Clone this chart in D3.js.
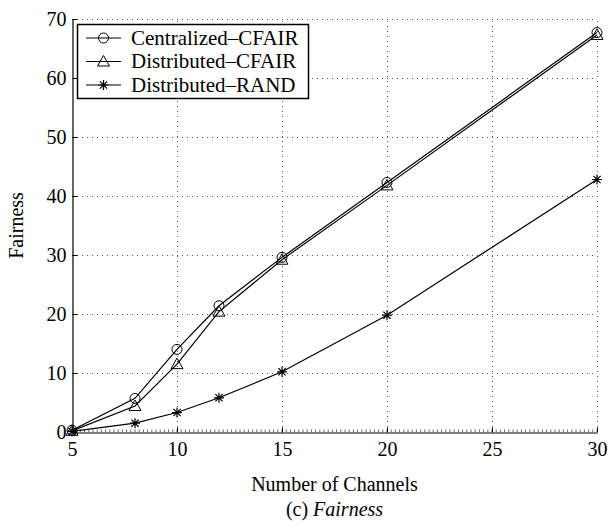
<!DOCTYPE html>
<html>
<head>
<meta charset="utf-8">
<script src="https://cdn.jsdelivr.net/npm/d3@7"></script>
<style>
  body { margin: 0; background: #fff; }
  svg { display: block; }
</style>
</head>
<body>
<div id="chart"></div>
<script>
// data
const channels = [5, 8, 10, 12, 15, 20, 30];
const centralizedCfair = [0.3, 5.7, 14.0, 21.4, 29.6, 42.3, 67.7];
const distributedCfair = [0.2, 4.4, 11.5, 20.4, 29.2, 41.8, 67.3];
const distributedRand = [0.1, 1.5, 3.3, 5.8, 10.2, 19.8, 42.8];
const xTicks = [5, 10, 15, 20, 25, 30];
const yTicks = [0, 10, 20, 30, 40, 50, 60, 70];

const series = [
    { name: 'Centralized\u2013CFAIR', values: centralizedCfair, marker: 'circle' },
    { name: 'Distributed\u2013CFAIR', values: distributedCfair, marker: 'triangle' },
    { name: 'Distributed\u2013RAND', values: distributedRand, marker: 'star' }
];

const width = 610, height = 525;
const margin = { left: 72, right: 13, top: 19, bottom: 93 };
const serif = "'Liberation Serif', monospace";

const svg = d3.select('#chart').append('svg')
    .attr('width', width)
    .attr('height', height);

const x = d3.scaleLinear().domain([5, 30]).range([margin.left, width - margin.right]);
const y = d3.scaleLinear().domain([0, 70]).range([height - margin.bottom, margin.top]);

// dotted grid
const grid = svg.append('g').attr('stroke', '#555').attr('stroke-width', 1)
    .attr('stroke-dasharray', '1,4');
grid.selectAll('.gx').data(xTicks.slice(1)).join('line')
    .attr('x1', d => Math.round(x(d)) + 0.5).attr('x2', d => Math.round(x(d)) + 0.5)
    .attr('y1', y(0)).attr('y2', y(70));
grid.selectAll('.gy').data(yTicks.slice(1)).join('line')
    .attr('y1', d => Math.round(y(d)) + 0.5).attr('y2', d => Math.round(y(d)) + 0.5)
    .attr('x1', x(5)).attr('x2', x(30));

// axes
const xAxis = svg.append('g')
    .attr('transform', `translate(0,${Math.round(y(0)) + 0.5})`)
    .call(d3.axisBottom(x).tickValues(xTicks).tickSize(-5).tickPadding(9).tickSizeOuter(0));
const yAxis = svg.append('g')
    .attr('transform', `translate(${Math.round(x(5)) + 0.5},0)`)
    .call(d3.axisLeft(y).tickValues(yTicks).tickSize(-5).tickPadding(6).tickSizeOuter(0));
[xAxis, yAxis].forEach(ax => {
    ax.select('.domain').attr('stroke', '#000').attr('stroke-width', 1.2);
    ax.selectAll('.tick line').attr('stroke', '#000');
    ax.selectAll('.tick text').style('font-size', '20px');
});

// minor ticks on x axis
svg.append('g').selectAll('line').data(d3.range(5, 30.01, 0.2)).join('line')
    .attr('x1', d => x(d)).attr('x2', d => x(d))
    .attr('y1', y(0)).attr('y2', y(0) - 2.5)
    .attr('stroke', '#000').attr('stroke-width', 0.6);

// axis labels
svg.append('text')
    .attr('x', (x(5) + x(30)) / 2).attr('y', 491)
    .attr('text-anchor', 'middle').style('font-size', '20px')
    .text('Number of Channels');
svg.append('text')
    .attr('transform', `translate(23,${(y(0) + y(70)) / 2}) rotate(-90)`)
    .attr('text-anchor', 'middle').style('font-size', '20px')
    .text('Fairness');
const cap = svg.append('text')
    .attr('x', (x(5) + x(30)) / 2).attr('y', 516)
    .attr('text-anchor', 'middle').style('font-size', '20px');
cap.append('tspan').text('(c) ');
cap.append('tspan').style('font-style', 'italic').text('Fairness');

// markers
function drawMarker(g, type, cx, cy) {
    if (type === 'circle') {
        g.append('circle').attr('cx', cx).attr('cy', cy).attr('r', 5)
            .attr('fill', 'none').attr('stroke', '#000');
    } else if (type === 'triangle') {
        const s = 6;
        g.append('path')
            .attr('d', `M${cx},${cy - s}L${cx + s},${cy + s * 0.75}L${cx - s},${cy + s * 0.75}Z`)
            .attr('fill', 'none').attr('stroke', '#000');
    } else {
        const s = 5, d = s * 0.72;
        g.append('path')
            .attr('d', `M${cx - s},${cy}H${cx + s}M${cx},${cy - s}V${cy + s}` +
                `M${cx - d},${cy - d}L${cx + d},${cy + d}M${cx - d},${cy + d}L${cx + d},${cy - d}`)
            .attr('stroke', '#000').attr('stroke-width', 1.2);
    }
}

const line = d3.line().x(d => x(d[0])).y(d => y(d[1]));
series.forEach(s => {
    const pts = channels.map((c, i) => [c, s.values[i]]);
    const g = svg.append('g');
    g.append('path').datum(pts).attr('d', line)
        .attr('fill', 'none').attr('stroke', '#000').attr('stroke-width', 1.2);
    pts.forEach(p => drawMarker(g, s.marker, x(p[0]), y(p[1])));
});

// legend
const leg = svg.append('g');
leg.append('rect').attr('x', 77.5).attr('y', 24.5).attr('width', 231).attr('height', 74)
    .attr('fill', '#fff').attr('stroke', '#000').attr('stroke-width', 1.5);
series.forEach((s, i) => {
    const ly = 38 + i * 23.5;
    const g = leg.append('g');
    g.append('line').attr('x1', 86).attr('x2', 121).attr('y1', ly).attr('y2', ly)
        .attr('stroke', '#000').attr('stroke-width', 1.2);
    drawMarker(g, s.marker, 103.5, ly);
    g.append('text').attr('x', 131).attr('y', ly + 6.5)
        .style('font-size', '21px').text(s.name);
});

// serif everywhere, set inline on each text
svg.selectAll('text').style('font-family', serif).style('fill', '#000');
</script>
</body>
</html>
